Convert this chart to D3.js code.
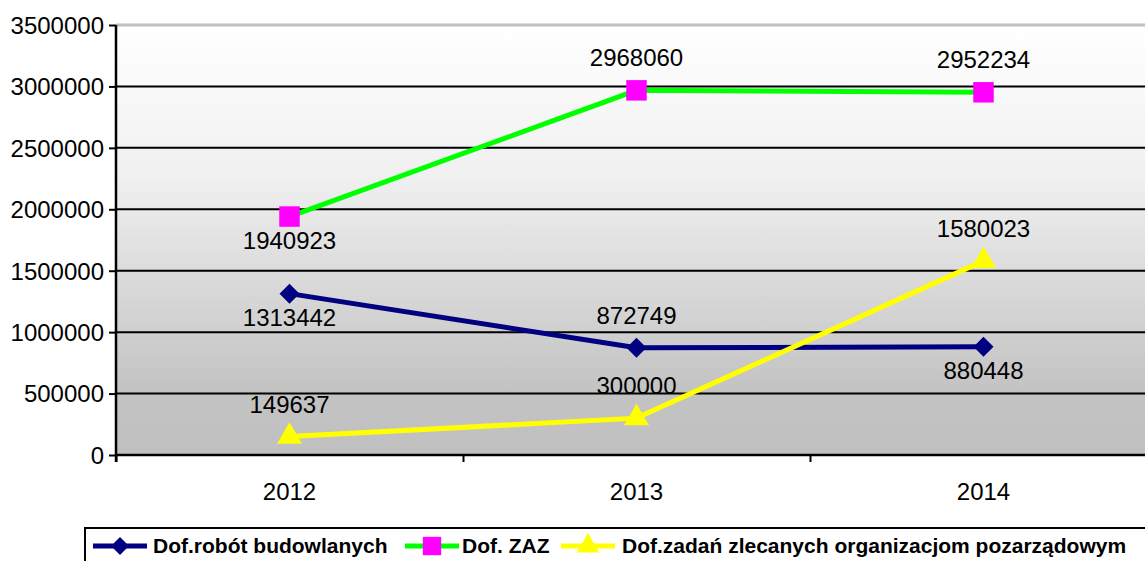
<!DOCTYPE html>
<html>
<head>
<meta charset="utf-8">
<script src="https://cdn.jsdelivr.net/npm/d3@7"></script>
<style>
  body { margin: 0; background: #fff; }
  svg { display: block; }
  svg text { font-family: Arial, "Liberation Sans", sans-serif; }
</style>
</head>
<body>
<div class="chart"></div>
<script>
// chart data
var years = ["2012", "2013", "2014"];
var robotyValues = [1313442, 872749, 880448];
var zazValues = [1940923, 2968060, 2952234];
var zadaniaValues = [149637, 300000, 1580023];
var yTicks = [0, 500000, 1000000, 1500000, 2000000, 2500000, 3000000, 3500000];

var svgWidth = 1145, svgHeight = 561;
var margin = { top: 25, right: -12, bottom: 106, left: 116 };
var width = svgWidth - margin.left - margin.right;
var height = svgHeight - margin.top - margin.bottom;

var svg = d3.select(".chart").append("svg")
  .attr("width", svgWidth)
  .attr("height", svgHeight);

// background gradient
var defs = svg.append("defs");
var grad = defs.append("linearGradient")
  .attr("id", "bg").attr("x1", 0).attr("y1", 0).attr("x2", 0).attr("y2", 1);
grad.append("stop").attr("offset", "0%").attr("stop-color", "#ffffff");
grad.append("stop").attr("offset", "35%").attr("stop-color", "#f0f0f0");
grad.append("stop").attr("offset", "85%").attr("stop-color", "#c3c3c3");
grad.append("stop").attr("offset", "100%").attr("stop-color", "#c0c0c0");

var chartGroup = svg.append("g")
  .attr("transform", `translate(${margin.left}, ${margin.top})`);

var xScale = d3.scaleBand().domain(years).range([0, width]);
var yScale = d3.scaleLinear().domain([0, 3500000]).range([height, 0]);

chartGroup.append("rect")
  .attr("width", width).attr("height", height)
  .attr("fill", "url(#bg)");

// top border of plot area
chartGroup.append("line")
  .attr("x1", 0).attr("x2", width)
  .attr("y1", 0).attr("y2", 0)
  .attr("stroke", "#c0c0c0").attr("stroke-width", 3);

// gridlines
chartGroup.selectAll(".grid")
  .data(yTicks.filter(d => d > 0 && d < 3500000))
  .enter().append("line")
  .attr("x1", 0).attr("x2", width)
  .attr("y1", d => yScale(d)).attr("y2", d => yScale(d))
  .attr("stroke", "#000").attr("stroke-width", 2);

// y axis
var leftAxis = d3.axisLeft(yScale).tickValues(yTicks).tickFormat(d3.format("d")).tickSize(7).tickPadding(5);
var yAxisG = chartGroup.append("g").call(leftAxis).attr("font-family", null).attr("font-size", null);
yAxisG.select(".domain").attr("stroke-width", 2.5).attr("d", `M0,0V${height + 7}`);
yAxisG.selectAll(".tick line").attr("stroke-width", 2);
yAxisG.selectAll("text").attr("font-size", 24).attr("fill", "#000").attr("dy", "0.35em");

// x axis
var xTickScale = d3.scaleLinear().domain([0, 3]).range([0, xScale.bandwidth() * 3]);
var bottomAxis = d3.axisBottom(xTickScale).tickValues([0, 1, 2]).tickFormat("").tickSize(7);
var xAxisG = chartGroup.append("g")
  .attr("transform", `translate(0, ${height})`)
  .call(bottomAxis);
xAxisG.select(".domain").attr("stroke-width", 2.5).attr("d", `M0,0H${width}`);
xAxisG.selectAll(".tick line").attr("stroke-width", 2);

chartGroup.selectAll(".xlabel")
  .data(years)
  .enter().append("text")
  .attr("x", d => xScale(d) + xScale.bandwidth() / 2)
  .attr("y", height + 45)
  .attr("text-anchor", "middle")
  .attr("font-size", 24)
  .text(d => d);

// diamond = square turned 45 degrees
var seriesList = [
  { name: "Dof.robót budowlanych", values: robotyValues, line: "#000080", marker: "#000080", symbol: d3.symbolSquare, size: 200, rotate: 45, labelPos: ["below", "above", "below"] },
  { name: "Dof. ZAZ", values: zazValues, line: "#00ff00", marker: "#ff00ff", symbol: d3.symbolSquare, size: 420, rotate: 0, labelPos: ["below", "above", "above"] },
  { name: "Dof.zadań zlecanych organizacjom pozarządowym", values: zadaniaValues, line: "#ffff00", marker: "#ffff00", symbol: d3.symbolTriangle, size: 270, rotate: 0, labelPos: ["above", "above", "above"] }
];

var lineGen = d3.line()
  .x((d, i) => xScale(years[i]) + xScale.bandwidth() / 2)
  .y(d => yScale(d));

seriesList.forEach(function(s) {
  chartGroup.append("path")
    .attr("d", lineGen(s.values))
    .attr("fill", "none")
    .attr("stroke", s.line)
    .attr("stroke-width", 5);

  chartGroup.selectAll(null)
    .data(s.values)
    .enter().append("path")
    .attr("d", d3.symbol().type(s.symbol).size(s.size))
    .attr("transform", (d, i) => `translate(${xScale(years[i]) + xScale.bandwidth() / 2}, ${yScale(d)}) rotate(${s.rotate})`)
    .attr("fill", s.marker);
});

// data labels
seriesList.forEach(function(s) {
  chartGroup.selectAll(null)
    .data(s.values)
    .enter().append("text")
    .attr("x", (d, i) => xScale(years[i]) + xScale.bandwidth() / 2)
    .attr("y", (d, i) => yScale(d) + (s.labelPos[i] === "above" ? -24 : 32))
    .attr("text-anchor", "middle")
    .attr("font-size", 24)
    .text(d => d);
});

// legend
var legend = svg.append("g");
legend.append("rect")
  .attr("x", 85).attr("y", 528)
  .attr("width", 1070).attr("height", 40)
  .attr("fill", "#fff").attr("stroke", "#000").attr("stroke-width", 2);

var legendX = [93, 405, 561];
var legendTextX = [153, 462, 622];
seriesList.forEach(function(s, i) {
  var g = legend.append("g").attr("transform", `translate(${legendX[i]}, 546)`);
  g.append("line")
    .attr("x1", 0).attr("x2", 54).attr("y1", 0).attr("y2", 0)
    .attr("stroke", s.line).attr("stroke-width", 5);
  g.append("path")
    .attr("d", d3.symbol().type(s.symbol).size(s.size * 0.8))
    .attr("transform", `translate(27, 0) rotate(${s.rotate})`)
    .attr("fill", s.marker);
  legend.append("text")
    .attr("x", legendTextX[i]).attr("y", 553)
    .attr("font-size", 21).attr("font-weight", "bold")
    .text(s.name);
});
</script>
</body>
</html>
